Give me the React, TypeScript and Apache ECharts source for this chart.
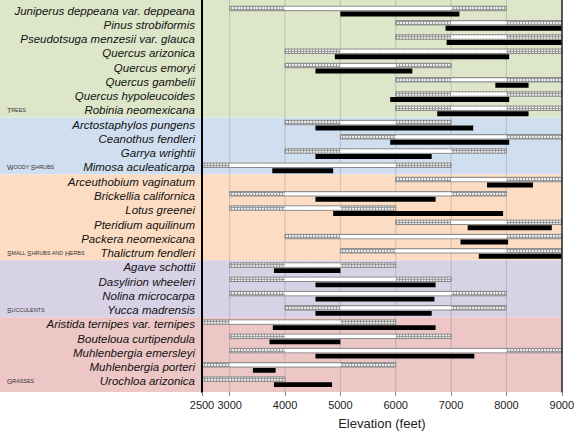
import React, { useEffect, useRef } from "react";
import * as echarts from "echarts";

const species = [
  "Juniperus deppeana var. deppeana",
  "Pinus strobiformis",
  "Pseudotsuga menzesii var. glauca",
  "Quercus arizonica",
  "Quercus emoryi",
  "Quercus gambelii",
  "Quercus hypoleucoides",
  "Robinia neomexicana",
  "Arctostaphylos pungens",
  "Ceanothus fendleri",
  "Garrya wrightii",
  "Mimosa aculeaticarpa",
  "Arceuthobium vaginatum",
  "Brickellia californica",
  "Lotus greenei",
  "Pteridium aquilinum",
  "Packera neomexicana",
  "Thalictrum fendleri",
  "Agave schottii",
  "Dasylirion wheeleri",
  "Nolina microcarpa",
  "Yucca madrensis",
  "Aristida ternipes var. ternipes",
  "Bouteloua curtipendula",
  "Muhlenbergia emersleyi",
  "Muhlenbergia porteri",
  "Urochloa arizonica",
];

// full reported range (patterned ends) and core range (white)
const rangeLow = [3000, 6000, 6000, 4000, 4000, 6000, 6000, 6000, 4000, 5000, 4000, 2500, 6000, 3000, 3000, 6000, 4000, 5000, 3000, 3000, 3000, 4000, 2500, 3000, 3000, 2500, 2500];
const coreLow = [4000, 7000, 7000, 5000, 5000, 7000, 7000, 7000, 5000, 6000, 5000, 3000, 7000, 4000, 4000, 7000, 5000, 6000, 4000, 4000, 4000, 5000, 3000, 4000, 4000, 3000, 4000];
const coreHigh = [7000, 8000, 8000, 8000, 6000, 8000, 8000, 8000, 6000, 8000, 7000, 6000, 8000, 7000, 5000, 8000, 8000, 8000, 5000, 6000, 7000, 7000, 5000, 6000, 8000, 5000, 4000];
const rangeHigh = [8000, 9000, 9000, 9000, 7000, 9000, 9000, 9000, 7000, 9000, 8000, 7000, 9000, 8000, 6000, 9000, 9000, 9000, 6000, 7000, 8000, 8000, 6000, 7000, 9000, 6000, 4000];
// observed range (black)
const obsLow = [5000, 6900, 6920, 4900, 4550, 7800, 5900, 6750, 4550, 5900, 4550, 3770, 7650, 4550, 4870, 7300, 7170, 7500, 3800, 4550, 4550, 4550, 3780, 3720, 4550, 3420, 3800];
const obsHigh = [7150, 9000, 9000, 8050, 6300, 8400, 8050, 8400, 7400, 8050, 6650, 4870, 8480, 6720, 7940, 8820, 8030, 9000, 5000, 6720, 6700, 6650, 6720, 5000, 7420, 3830, 4850];

const groupNames = ["Trees", "Woody Shrubs", "Small Shrubs and Herbs", "Succulents", "Grasses"];
const groupStart = [0, 8, 12, 18, 22];
const groupEnd = [7, 11, 17, 21, 26];
const groupColors = ["#dde6c8", "#cfdff0", "#fcddc4", "#d8d2e6", "#ecc7c6"];

const xTicks = [2500, 3000, 4000, 5000, 6000, 7000, 8000, 9000];
const gridValues = [3000, 4000, 5000, 6000, 7000, 8000];

const FONT = "'Liberation Sans', Arial, sans-serif";

function smallCaps(s: string): string {
  let out = "";
  let cur = "";
  let curKey = "";
  for (const ch of s) {
    const isUp = ch !== " " && ch === ch.toUpperCase();
    const key = isUp ? "a" : "b";
    if (key !== curKey && cur) {
      out += `{${curKey}|${cur}}`;
      cur = "";
    }
    curKey = key;
    cur += ch.toUpperCase();
  }
  if (cur) out += `{${curKey}|${cur}}`;
  return out;
}

export default function App() {
  const ref = useRef<HTMLDivElement>(null);
  useEffect(() => {
    document.body.style.margin = "0";
    if (!ref.current) return;
    const chart = echarts.init(ref.current, undefined, { renderer: "svg" });

    const cv = document.createElement("canvas");
    cv.width = 3;
    cv.height = 3;
    const ctx = cv.getContext("2d")!;
    ctx.fillStyle = "#9c9c9c";
    ctx.fillRect(0, 0, 3, 3);
    ctx.fillStyle = "#ececec";
    ctx.fillRect(1, 1, 2, 2);
    const pattern: any = { image: cv, repeat: "repeat", imageWidth: 3, imageHeight: 3 };

    const barData = species.map((_, i) => [i, rangeLow[i], coreLow[i], coreHigh[i], rangeHigh[i], obsLow[i], obsHigh[i]]);
    const bandData = groupNames.map((_, i) => [2500, groupStart[i], groupEnd[i]]);

    const option: any = {
      animation: false,
      backgroundColor: "#ffffff",
      textStyle: { fontFamily: FONT },
      grid: { left: 202, right: 13, top: 0, bottom: 37, containLabel: false },
      xAxis: {
        type: "value",
        min: 2500,
        max: 9000,
        z: 10,
        axisLine: { show: false, onZero: false },
        axisTick: { show: true, length: 4, lineStyle: { color: "#888" }, customValues: xTicks },
        axisLabel: {
          customValues: xTicks,
          formatter: (v: number) => String(v),
          fontSize: 11,
          color: "#222",
          margin: 7,
          fontFamily: FONT,
        },
        splitLine: { show: false },
        name: "Elevation (feet)",
        nameLocation: "middle",
        nameGap: 25,
        nameTextStyle: { fontSize: 13, color: "#222", fontFamily: FONT },
      },
      yAxis: [
        {
          type: "value",
          min: -0.75,
          max: 26.75,
          inverse: true,
          position: "left",
          z: 10,
          axisLine: { show: true, onZero: false, lineStyle: { color: "#000", width: 2 } },
          axisTick: { show: false },
          splitLine: { show: false },
          axisLabel: {
            customValues: species.map((_, i) => i),
            formatter: (v: number) => species[Math.round(v)] ?? "",
            fontStyle: "italic",
            fontSize: 11.5,
            color: "#111",
            margin: 7,
            fontFamily: FONT,
          },
        },
        {
          type: "value",
          min: -0.75,
          max: 26.75,
          inverse: true,
          position: "right",
          z: 10,
          axisLine: { show: true, onZero: false, lineStyle: { color: "#222", width: 1.5 } },
          axisTick: { show: false },
          splitLine: { show: false },
          axisLabel: { show: false },
        },
      ],
      series: [
        {
          type: "custom",
          name: "groups",
          clip: false,
          silent: true,
          z: 1,
          data: bandData,
          encode: { x: 0, y: [1, 2] },
          renderItem: (params: any, api: any) => {
            const cs = params.coordSys;
            const i = params.dataIndex;
            const s = api.value(1);
            const e = api.value(2);
            const yTop = i === 0 ? cs.y : api.coord([2500, s - 0.5])[1];
            const yBot = i === groupNames.length - 1 ? cs.y + cs.height : api.coord([2500, e + 0.5])[1];
            const labelY = api.coord([2500, e])[1];
            return {
              type: "group",
              children: [
                { type: "rect", shape: { x: 0, y: yTop, width: cs.x + cs.width, height: yBot - yTop }, style: { fill: groupColors[i] } },
                {
                  type: "text",
                  x: 7,
                  y: labelY,
                  style: {
                    text: smallCaps(groupNames[i]),
                    rich: {
                      a: { fontSize: 6.8, fill: "#333", fontFamily: FONT },
                      b: { fontSize: 5.4, fill: "#333", fontFamily: FONT },
                    },
                    verticalAlign: "middle",
                    align: "left",
                  },
                },
              ],
            };
          },
        },
        {
          type: "custom",
          name: "grid",
          silent: true,
          z: 2,
          data: gridValues.map((v) => [v, 0]),
          encode: { x: 0, y: 1 },
          renderItem: (params: any, api: any) => {
            const cs = params.coordSys;
            const x = api.coord([api.value(0), 0])[0];
            return {
              type: "line",
              shape: { x1: x, y1: cs.y, x2: x, y2: cs.y + cs.height },
              style: { stroke: "rgba(110,110,110,0.3)", lineWidth: 1 },
            };
          },
        },
        {
          type: "custom",
          name: "ranges",
          z: 3,
          data: barData,
          encode: { y: 0, x: [1, 4] },
          renderItem: (params: any, api: any) => {
            const i = api.value(0);
            const c = api.coord([2500, i])[1];
            const rowH = api.size([0, 1])[1];
            const X = (v: number) => api.coord([v, i])[0];
            const rl = api.value(1), cl = api.value(2), ch = api.value(3), rh = api.value(4);
            const bl = api.value(5), bh = api.value(6);
            const upH = 0.31 * rowH;
            const upTop = c - upH;
            const bTop = c + 0.06 * rowH;
            const bH = 0.34 * rowH;
            const children: any[] = [
              {
                type: "rect",
                shape: { x: X(rl), y: upTop, width: X(rh) - X(rl), height: upH },
                style: { fill: pattern, stroke: "#8a8a8a", lineWidth: 1 },
              },
            ];
            if (ch > cl) {
              children.push({
                type: "rect",
                shape: { x: X(cl), y: upTop + 0.6, width: X(ch) - X(cl), height: upH - 1.2 },
                style: { fill: "#ffffff" },
              });
            }
            children.push({
              type: "rect",
              shape: { x: X(bl), y: bTop, width: X(bh) - X(bl), height: bH },
              style: { fill: "#000000" },
            });
            return { type: "group", children };
          },
        },
      ],
    };
    chart.setOption(option);
    return () => chart.dispose();
  }, []);
  return <div ref={ref} style={{ width: 577, height: 435 }} />;
}
